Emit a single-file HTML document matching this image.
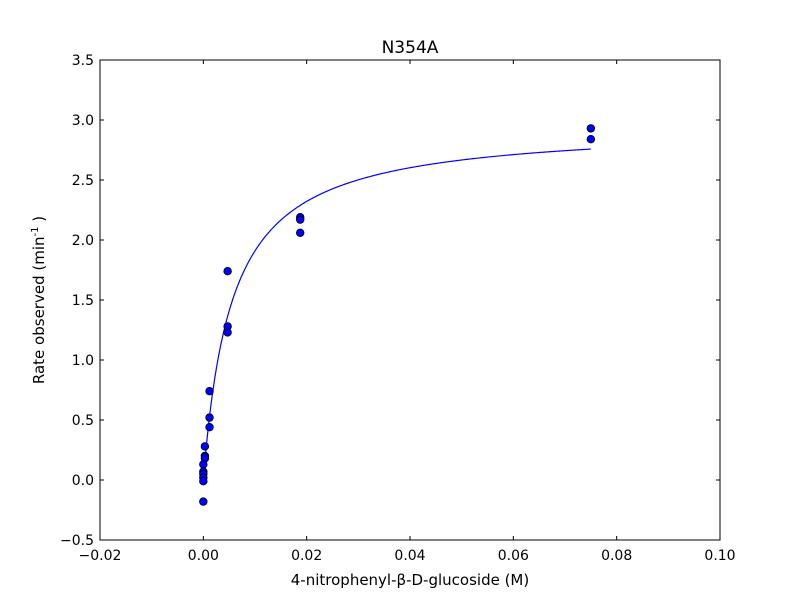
<!DOCTYPE html>
<html><head><meta charset="utf-8"><style>
html,body{margin:0;padding:0;background:#fff;}
svg text{font-family:"DejaVu Sans","Liberation Sans",sans-serif;}
</style></head><body>
<svg id="chart" width="800" height="600" xmlns="http://www.w3.org/2000/svg">
<rect width="800" height="600" fill="#fff"/>
</svg>
<script>
const xTicks = [-0.02, 0.00, 0.02, 0.04, 0.06, 0.08, 0.10];
const xTickLabels = ["\u22120.02","0.00","0.02","0.04","0.06","0.08","0.10"];
const yTicks = [-0.5,0,0.5,1,1.5,2,2.5,3,3.5];
const yTickLabels = ["\u22120.5","0.0","0.5","1.0","1.5","2.0","2.5","3.0","3.5"];
const pointX = [0.075,0.075,0.01875,0.01875,0.01875,0.0047,0.0047,0.0047,0.0012,0.0012,0.0012,0.0003,0.0003,0.0003,0,0,0,0,0,0];
const pointY = [2.93,2.84,2.19,2.17,2.06,1.74,1.28,1.23,0.74,0.52,0.44,0.28,0.20,0.18,0.13,0.07,0.05,0.02,-0.01,-0.18];
const vmax = 2.96, km = 0.0055, fitMaxX = 0.075;

const L=100,R=720,T=60,B=540;
const xs=v=>L+(v-(-0.02))/(0.12)*(R-L);
const ys=v=>B-(v-(-0.5))/4*(B-T);
const svg=document.getElementById('chart');
const NS='http://www.w3.org/2000/svg';
function mk(tag,attrs,parent){const e=document.createElementNS(NS,tag);for(const k in attrs)e.setAttribute(k,attrs[k]);(parent||svg).appendChild(e);return e;}

let d='';
for(let i=0;i<=300;i++){const x=fitMaxX*i/300;const y=vmax*x/(km+x);d+=(i?'L':'M')+xs(x).toFixed(2)+','+ys(y).toFixed(2);}
const fit=mk('path',{d:d,fill:'none',stroke:'#0000ff','stroke-width':1.2});



for(let i=0;i<pointX.length;i++){
  const c=mk('circle',{cx:xs(pointX[i]),cy:ys(pointY[i]),r:3.8,fill:'#0000ff',stroke:'#000','stroke-width':0.8});
  
  
}

const fr=mk('rect',{x:L,y:T,width:R-L,height:B-T,fill:'none',stroke:'#000','stroke-width':1});



xTicks.forEach((v,i)=>{
  const x=xs(v);
  mk('line',{x1:x,x2:x,y1:B,y2:B-4,stroke:'#000'});
  mk('line',{x1:x,x2:x,y1:T,y2:T+4,stroke:'#000'});
  const t=mk('text',{x:x,y:B+20,'text-anchor':'middle','font-size':14});
  t.textContent=xTickLabels[i];
  
  
});
yTicks.forEach((v,i)=>{
  const y=ys(v);
  mk('line',{x1:L,x2:L+4,y1:y,y2:y,stroke:'#000'});
  mk('line',{x1:R,x2:R-4,y1:y,y2:y,stroke:'#000'});
  const t=mk('text',{x:L-6,y:y+5,'text-anchor':'end','font-size':14});
  t.textContent=yTickLabels[i];
  
  
});
</script>
<svg style="position:absolute;left:0;top:0" width="800" height="600">
<text x="410" y="53" text-anchor="middle" font-size="17">N354A</text>
<text x="410" y="585" text-anchor="middle" font-size="15">4-nitrophenyl-β-D-glucoside (M)</text>
<text transform="translate(44,300) rotate(-90)" text-anchor="middle" font-size="15">Rate observed (min<tspan font-size="10" dy="-6">-1</tspan><tspan dy="6"> )</tspan></text>
</svg>
</body></html>
